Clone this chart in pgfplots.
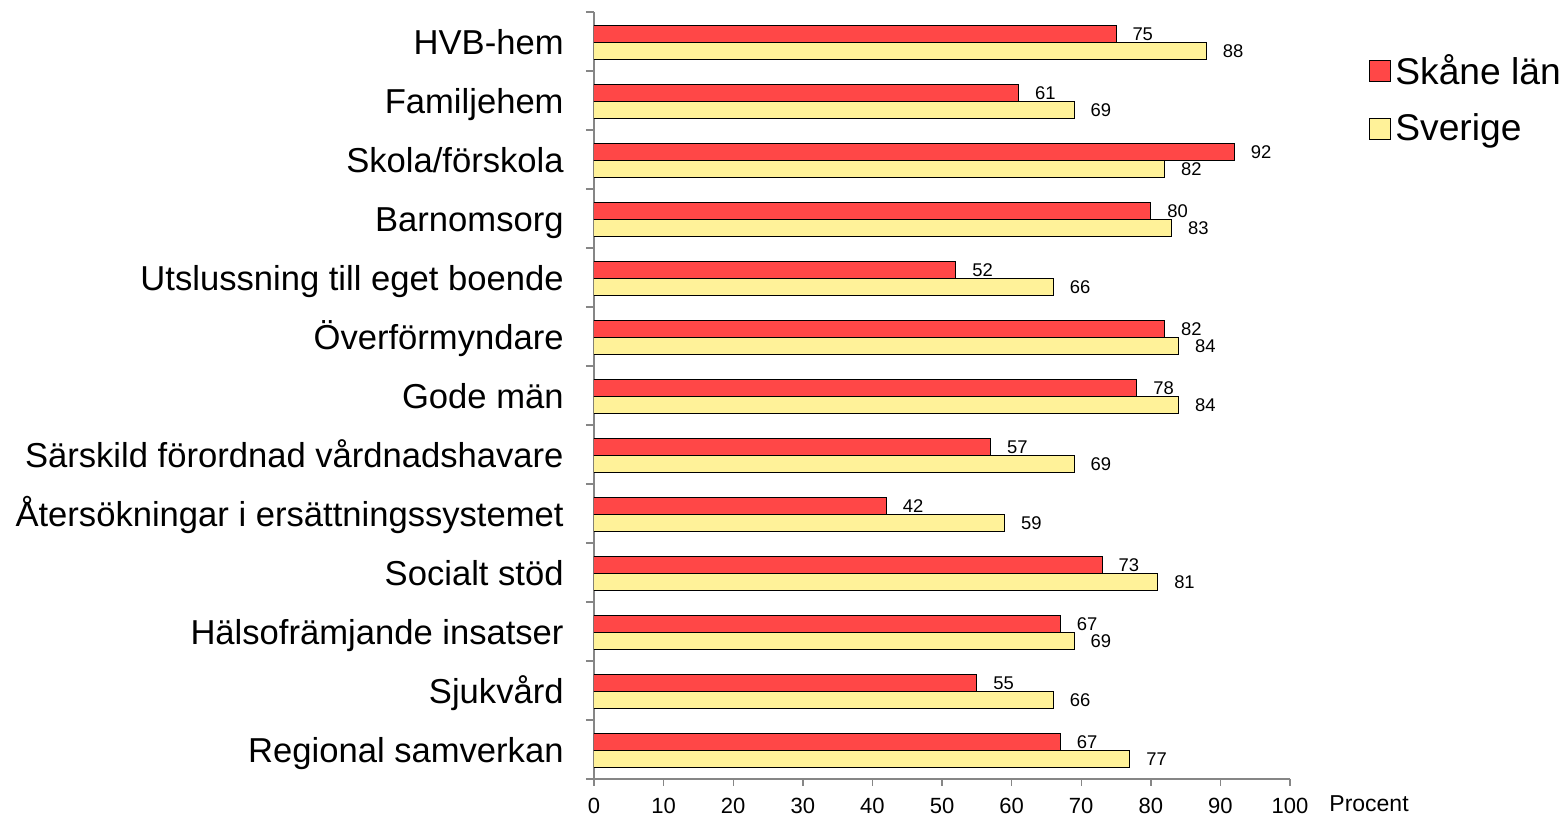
\documentclass[border=0pt]{standalone}
\usepackage{pgfplots}
\pgfplotsset{compat=1.18}
\usepackage{fontspec}
\setmainfont{Liberation Sans}
\definecolor{skred}{RGB}{255,71,71}
\definecolor{skyel}{RGB}{255,242,153}
\definecolor{axgray}{RGB}{134,134,134}
\pgfplotsset{sqlegend/.style={legend image code/.code={\draw[##1,draw=black,line width=0.5pt] (0pt,-5.25pt) rectangle (10.5pt,5.25pt);}}}
\begin{document}
\begin{tikzpicture}
\useasboundingbox (0,0) rectangle (784pt,408.5pt);
\begin{axis}[
 at={(297pt,19pt)}, anchor=south west,
 scale only axis, width=348pt, height=383.5pt,
 xmin=0, xmax=100, ymin=-0.5, ymax=12.5,
 axis x line=bottom, axis y line=left,
 axis line style={-, draw=axgray, line width=0.7pt},
 tick align=outside,
 xtick={0,10,...,100},
 major tick length=3.5pt,
 major x tick style={draw=axgray, line width=0.7pt},
 ytick={0,...,12},
 yticklabels={Regional samverkan, Sjukvård, Hälsofrämjande insatser, Socialt stöd, Återsökningar i ersättningssystemet, Särskild förordnad vårdnadshavare, Gode män, Överförmyndare, Utslussning till eget boende, Barnomsorg, Skola/förskola, Familjehem, HVB-hem},
 major y tick style={draw=none},
 minor ytick={-0.5,0.5,...,12.5},
 minor tick length=4pt,
 minor y tick style={draw=axgray, line width=0.7pt},
 /pgf/number format/assume math mode=true,
 xticklabel style={font=\fontsize{11}{11}\selectfont, inner sep=0pt, anchor=north, yshift=-6pt},
 yticklabel style={font=\fontsize{17.3}{17.3}\selectfont, inner sep=0pt, anchor=base east, xshift=-11.5pt, yshift=-6.3pt},
 xlabel={Procent},
 xlabel style={at={(rel axis cs:1,0)}, anchor=west, inner sep=0pt, xshift=19.5pt, yshift=-12.5pt, font=\fontsize{11.5}{11.5}\selectfont},
 legend style={at={(rel axis cs:1.1135,0.95)}, anchor=north west, draw=none, fill=none, font=\fontsize{18.6}{18.6}\selectfont, row sep=9pt, inner sep=0pt, legend cell align=left},
]
\addplot[xbar, bar width=8.5pt, bar shift=3.5pt, fill=skred, draw=black, line width=0.5pt, sqlegend,
  point meta=x, nodes near coords,
  nodes near coords style={font=\fontsize{9.2}{9.2}\selectfont, anchor=west, inner sep=0pt, xshift=8pt, yshift=3.5pt, text=black}]
 coordinates {(67,0) (55,1) (67,2) (73,3) (42,4) (57,5) (78,6) (82,7) (52,8) (80,9) (92,10) (61,11) (75,12)};
\addplot[xbar, bar width=8.5pt, bar shift=-5pt, fill=skyel, draw=black, line width=0.5pt, sqlegend,
  point meta=x, nodes near coords,
  nodes near coords style={font=\fontsize{9.2}{9.2}\selectfont, anchor=west, inner sep=0pt, xshift=8pt, yshift=-5pt, text=black}]
 coordinates {(77,0) (66,1) (69,2) (81,3) (59,4) (69,5) (84,6) (84,7) (66,8) (83,9) (82,10) (69,11) (88,12)};
\legend{Skåne län, Sverige}
\end{axis}
\end{tikzpicture}
\end{document}
